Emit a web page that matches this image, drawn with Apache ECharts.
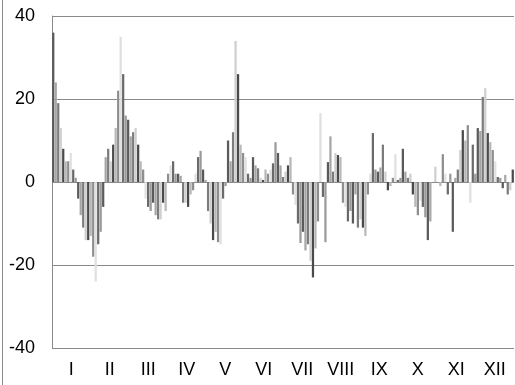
<!DOCTYPE html>
<html>
<head>
<meta charset="utf-8">
<script src="https://cdn.jsdelivr.net/npm/echarts@6/dist/echarts.min.js"></script>
<style>
  html, body { margin: 0; padding: 0; background: #fff; }
  #frame { position: absolute; left: 2px; top: 0; width: 1px; height: 385px; background: #8a8a8a; }
  #chart { position: absolute; left: 0; top: 0; width: 515px; height: 385px; }
</style>
</head>
<body>
<div id="chart"></div>
<div id="frame"></div>
<script>
// Month tick labels
var months = ['I', 'II', 'III', 'IV', 'V', 'VI', 'VII', 'VIII', 'IX', 'X', 'XI', 'XII'];
// y axis ticks
var yTicks = [-40, -20, 0, 20, 40];
// Values through the year (~2-day steps)
var janValues = [36, 24, 19, 13, 8, 5, 5, 7, 3, 1,
                 -4, -8, -11, -14, -14, -13, -18, -24, -15, -12, -6];
var febMarValues = [6, 8, 5, 9, 13, 22, 35, 26, 16, 15, 11, 12, 13, 9, 5, 3,
                    -4, -6, -7, -5, -8, -9, -9, -5];
var aprMayValues = [-7, 2, 4, 5, 2, 2, 1.5, -5, -5, -6, -3, -2,
                    2, 6, 7.5, 3, 0.5,
                    -7, -10, -14, -12, -14.5, -15, -4, -1,
                    10, 5, 12, 34, 26, 9, 7, 6, 2, 1, 6, 4];
var junJulValues = [3.3, 1, 0.5, 3, 2, 3, 4.5, 9.6, 7, 4, 1.2, 2.5, 4, 6,
                    -3, -5.5, -10, -14.7, -12, -16.5, -15, -19, -23, -16, -9.5, 16.6, -3.6, -14.5];
var augSepValues = [4.8, 11, 2.5, 7, 6.5, 6,
                    -5, -6, -9.5, -7, -10, -3, -11, -9, -11, -13, -3,
                    2, 11.8, 3, 2.5, 3.5, 9, 2.5, -2];
var octNovValues = [-1, 1, 6.7, 0.5, 1, 8, 2.5, 1, 2, -3, -6, -8, -4.5, -6, -8.5, -14, -9.5, 0,
                    3.7, 0, -1, 6.7, 2, -3, 2, -12, 1, 3];
var novDecValues = [7.7, 12.5, 10, 13.7, -5, 9, 2, 13, 12.3, 20.5, 22.6, 11.8, 9.6, 7.7, 5,
                    1.2, 1, -1.5, 1.7, -3, -2, 3];

var values = [].concat(janValues, febMarValues, aprMayValues, junJulValues,
                       augSepValues, octNovValues, novDecValues);
var steps = values.map(function (v, i) { return String(i); });

var chart = echarts.init(document.getElementById('chart'), null, { renderer: 'canvas' });
var font = 'Liberation Sans, Arial, sans-serif';
chart.setOption({
  animation: false,
  color: ['#5a5a5a', '#a6a6a6', '#7c7c7c', '#cfcfcf', '#4a4a4a', '#b8b8b8', '#8e8e8e', '#e0e0e0', '#6a6a6a', '#9a9a9a'],
  grid: { left: 52, right: 1, top: 16, bottom: 37 },
  xAxis: [
    {
      type: 'category', data: steps, show: false,
      boundaryGap: true
    },
    {
      type: 'category', data: months, position: 'bottom',
      boundaryGap: true,
      axisLine: { show: false }, axisTick: { show: false },
      axisLabel: { color: '#000', fontSize: 18, fontFamily: font, margin: 13, interval: 0 },
      splitLine: { show: false }
    }
  ],
  yAxis: {
    type: 'value', min: yTicks[0], max: yTicks[yTicks.length - 1], interval: 20,
    axisLine: { show: true, lineStyle: { color: '#8a8a8a', width: 1 } },
    axisTick: { show: false },
    axisLabel: { color: '#000', fontSize: 18, fontFamily: font, margin: 17 },
    splitLine: { show: true, lineStyle: { color: '#8a8a8a', width: 1 } }
  },
  series: [{
    type: 'bar',
    xAxisIndex: 0,
    data: values,
    colorBy: 'data',
    barCategoryGap: '10%',
    itemStyle: { borderWidth: 0 }
  }]
});
</script>
</body>
</html>
